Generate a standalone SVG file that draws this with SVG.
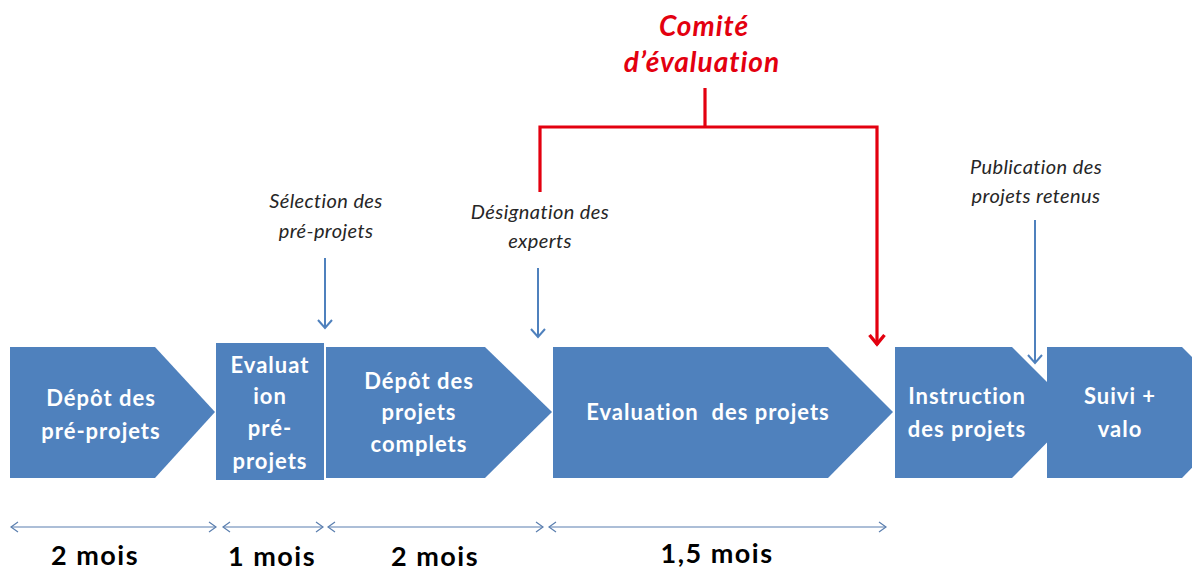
<svg xmlns="http://www.w3.org/2000/svg" width="1192" height="573" viewBox="0 0 1192 573">
<style>
.box{fill:#4F81BD;}
.lbl{font-family:Lato,"Liberation Sans",sans-serif;font-weight:bold;font-size:22px;letter-spacing:1px;fill:#FFFFFF;text-anchor:middle;}
.note{font-family:Lato,"Liberation Sans",sans-serif;font-style:italic;font-size:20px;letter-spacing:0.4px;fill:#262626;text-anchor:middle;}
.red{font-family:Lato,"Liberation Sans",sans-serif;font-style:italic;font-weight:bold;font-size:28px;letter-spacing:1px;fill:#E3000F;text-anchor:middle;}
.dur{font-family:Lato,"Liberation Sans",sans-serif;font-weight:bold;font-size:27px;letter-spacing:1.5px;fill:#000000;text-anchor:middle;}
.blue{stroke:#4F81BD;stroke-width:2;fill:none;}
.dim{stroke:#5B7FAF;stroke-width:1.2;fill:none;}
.rline{stroke:#E3000F;stroke-width:3.2;fill:none;}
</style>
<defs>
<marker id="ab" markerUnits="userSpaceOnUse" markerWidth="20" markerHeight="20" viewBox="-10 -10 20 20" refX="0" refY="0" orient="auto">
<path d="M-8,-7 L0,0 L-8,7" stroke="#4F81BD" stroke-width="2" fill="none"/>
</marker>
<marker id="ad" markerUnits="userSpaceOnUse" markerWidth="20" markerHeight="20" viewBox="-10 -10 20 20" refX="0" refY="0" orient="auto-start-reverse">
<path d="M-7,-5 L0,0 L-7,5" stroke="#5B7FAF" stroke-width="1.2" fill="none"/>
</marker>
<marker id="ar" markerUnits="userSpaceOnUse" markerWidth="24" markerHeight="24" viewBox="-12 -12 24 24" refX="0" refY="0" orient="auto">
<path d="M-10,-7.5 L-1,0 L-10,7.5" stroke="#E3000F" stroke-width="3.4" fill="none"/>
</marker>
</defs>
<rect width="1192" height="573" fill="#FFFFFF"/>

<g id="node-depot-pre">
<polygon class="box" points="10,347 155,347 215,412 155,478 10,478"/>
<text class="lbl" x="101" y="406">Dépôt des</text>
<text class="lbl" x="101" y="439">pré-projets</text>
</g>
<g id="node-eval-pre">
<rect class="box" x="216" y="343" width="108" height="137"/>
<text class="lbl" x="270" y="373">Evaluat</text>
<text class="lbl" x="270" y="404">ion</text>
<text class="lbl" x="270" y="436">pré-</text>
<text class="lbl" x="270" y="469">projets</text>
</g>
<g id="node-depot-complets">
<polygon class="box" points="326,347 485,347 552,412 485,478 326,478"/>
<text class="lbl" x="419" y="389">Dépôt des</text>
<text class="lbl" x="419" y="420">projets</text>
<text class="lbl" x="419" y="452">complets</text>
</g>
<g id="node-eval-projets">
<polygon class="box" points="553,347 828,347 893,412 828,478 553,478"/>
<text class="lbl" x="708" y="420" xml:space="preserve">Evaluation  des projets</text>
</g>
<g id="node-instruction">
<polygon class="box" points="895,347 1012,347 1077,412 1012,478 895,478"/>
<text class="lbl" x="967" y="404">Instruction</text>
<text class="lbl" x="967" y="437">des projets</text>
</g>
<g id="node-suivi">
<polygon class="box" points="1047,347 1182,347 1247,412 1182,478 1047,478"/>
<text class="lbl" x="1120" y="404">Suivi +</text>
<text class="lbl" x="1120" y="437">valo</text>
</g>

<g id="note-selection">
<text class="note" x="326" y="208">Sélection des</text>
<text class="note" x="326" y="238">pré-projets</text>
</g>
<g id="note-designation">
<text class="note" x="540" y="219">Désignation des</text>
<text class="note" x="540" y="248">experts</text>
</g>
<g id="note-publication">
<text class="note" x="1036" y="174">Publication des</text>
<text class="note" x="1036" y="203">projets retenus</text>
</g>
<g id="node-comite">
<text class="red" x="704" y="36">Comité</text>
<text class="red" x="702" y="72">d’évaluation</text>
</g>

<g id="connectors">
<line class="blue" x1="325" y1="258" x2="325" y2="328" marker-end="url(#ab)"/>
<line class="blue" x1="538" y1="268" x2="538" y2="337" marker-end="url(#ab)"/>
<line class="blue" x1="1035" y1="220" x2="1035" y2="363" marker-end="url(#ab)"/>
<path class="rline" d="M540,192 V127 H877 V345"  marker-end="url(#ar)"/>
<line class="rline" x1="705" y1="88" x2="705" y2="127"/>
<line class="dim" x1="11" y1="527" x2="216" y2="527" marker-start="url(#ad)" marker-end="url(#ad)"/>
<line class="dim" x1="223" y1="527" x2="323" y2="527" marker-start="url(#ad)" marker-end="url(#ad)"/>
<line class="dim" x1="328" y1="527" x2="543" y2="527" marker-start="url(#ad)" marker-end="url(#ad)"/>
<line class="dim" x1="549" y1="527" x2="886" y2="527" marker-start="url(#ad)" marker-end="url(#ad)"/>
</g>

<g id="durations">
<text class="dur" x="95" y="565">2 mois</text>
<text class="dur" x="272" y="566">1 mois</text>
<text class="dur" x="435" y="566">2 mois</text>
<text class="dur" x="717" y="563">1,5 mois</text>
</g>
</svg>
